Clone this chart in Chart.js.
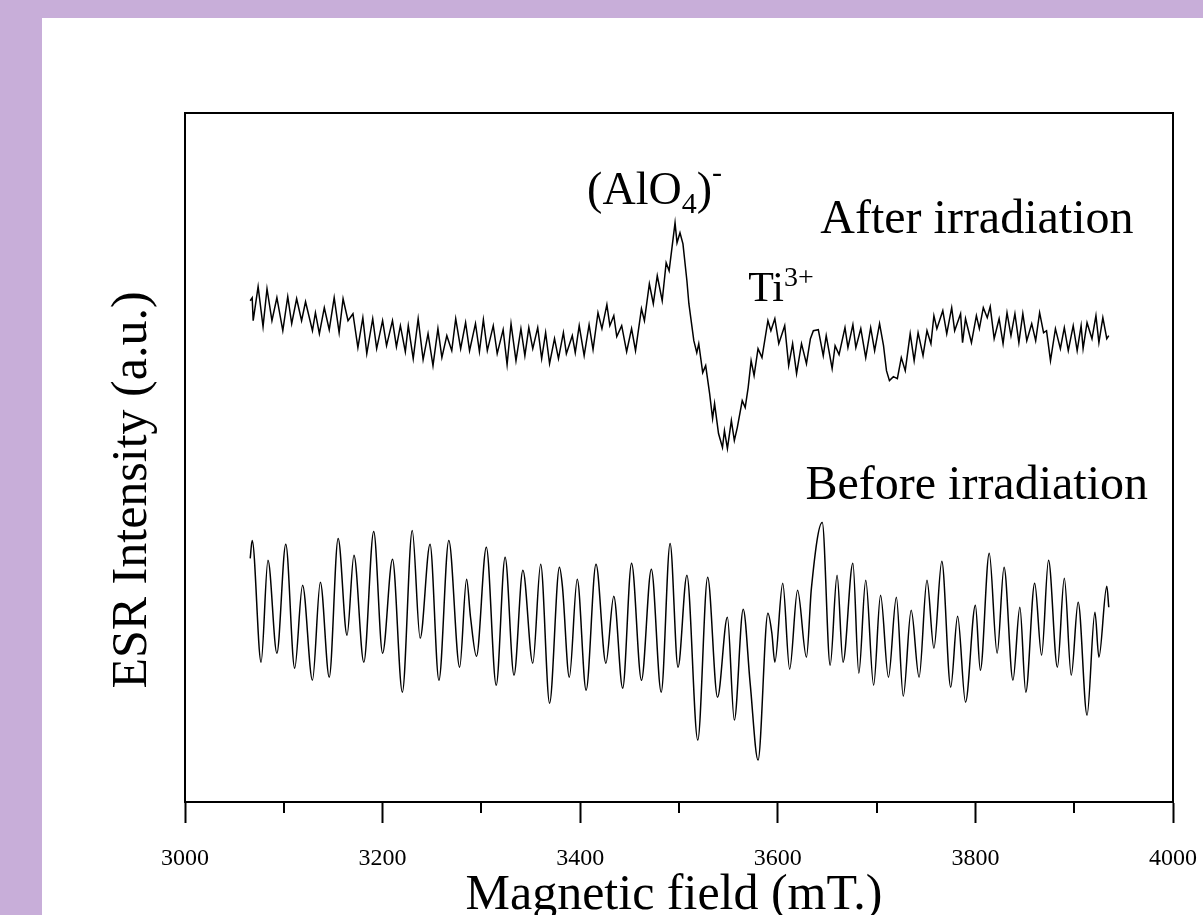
<!DOCTYPE html>
<html>
<head>
<meta charset="utf-8">
<script src="https://cdn.jsdelivr.net/npm/chart.js@4.4.1/dist/chart.umd.min.js"></script>
<style>
  html, body { margin: 0; padding: 0; }
  body { width: 1203px; height: 915px; background: #c8aed9; position: relative; overflow: hidden; }
  #sheet { position: absolute; left: 42px; top: 18px; right: 0; bottom: 0; background: #fff; }
  #esr { position: absolute; left: 0; top: 0; }
</style>
</head>
<body>
<div id="sheet"></div>
<canvas id="esr" width="1203" height="915"></canvas>
<script>
// ESR spectra, field in mT, intensity in arbitrary units
const afterField = [3066,3068,3069,3074,3079,3083,3088,3093,3099,3104,3108,3113,3118,3122,3129,3132,3136,3141,3146,3151,
  3156,3160,3165,3170,3175,3180,3184,3190,3194,3200,3204,3210,3214,3218,3223,3226,3231,3236,3241,3246,
  3251,3256,3260,3265,3270,3274,3279,3284,3288,3294,3298,3302,3306,3312,3316,3322,3326,3330,3335,3340,
  3344,3348,3352,3357,3361,3365,3369,3374,3378,3383,3386,3392,3395,3399,3404,3409,3413,3418,3422,3427,
  3430,3434,3437,3442,3447,3452,3456,3462,3465,3470,3474,3478,3483,3487,3490,3496,3498,3501,3504,3508,
  3510,3515,3518,3520,3524,3527,3531,3534,3536,3540,3544,3546,3549,3553,3556,3559,3564,3567,3570,3573,
  3576,3580,3584,3590,3593,3597,3601,3607,3611,3615,3619,3624,3629,3633,3636,3641,3646,3649,3655,3658,
  3662,3668,3671,3676,3679,3684,3689,3694,3698,3703,3707,3710,3713,3717,3721,3725,3729,3734,3738,3742,
  3747,3751,3755,3758,3761,3767,3771,3776,3779,3785,3787,3790,3796,3801,3804,3808,3812,3815,3819,3824,
  3828,3832,3836,3840,3844,3848,3852,3857,3861,3865,3869,3872,3876,3881,3886,3890,3894,3899,3903,3907,
  3909,3913,3918,3922,3925,3929,3933,3935];
const afterIntensity = [50.2,50.5,48.2,51.6,47.6,51.4,48.2,50.5,47.2,50.6,47.9,50.4,48.2,50.1,47.2,49.0,46.9,49.5,47.3,50.5,
  47.0,50.4,48.2,48.9,45.5,48.5,44.9,48.4,45.4,48.2,45.7,48.2,45.6,47.7,45.1,47.7,44.4,48.4,44.3,46.9,
  43.7,47.4,44.5,46.7,45.2,48.4,45.4,48.0,45.2,47.9,45.1,48.3,45.2,47.7,44.9,47.3,43.8,47.9,44.2,47.4,
  44.7,47.5,45.4,47.5,44.4,47.0,43.9,46.4,44.4,47.0,44.9,46.7,45.0,47.7,44.7,47.8,45.3,49.0,47.4,49.8,
  47.7,48.7,46.6,47.7,45.1,47.4,45.2,49.4,48.2,51.9,49.9,52.7,50.2,54.0,53.2,58.0,56.0,57.0,55.9,52.2,
  49.9,46.2,45.0,45.9,43.0,43.7,40.9,38.4,39.9,36.9,35.5,37.2,35.4,38.2,36.2,37.5,40.2,39.5,41.5,44.2,
  42.7,45.4,44.5,48.2,47.2,48.4,45.9,47.7,43.7,45.9,42.9,45.9,43.9,46.4,47.2,47.3,44.7,46.7,43.4,45.7,
  44.8,47.5,45.5,47.8,45.5,47.4,44.5,47.5,45.2,47.9,45.7,43.2,42.2,42.6,42.4,44.5,43.2,46.9,44.2,47.0,
  44.7,47.2,45.9,48.7,47.4,49.2,46.9,49.5,47.2,48.9,46.0,48.4,46.0,48.7,47.4,49.5,48.5,49.6,46.4,48.4,
  45.9,49.0,46.7,48.9,46.0,48.9,46.2,47.9,46.2,49.0,47.0,47.2,44.2,47.4,45.4,47.5,45.2,47.7,45.2,47.7,
  45.4,48.0,46.4,48.7,46.0,48.5,46.4,46.7];

const beforeField = [3066,3068,3077,3084,3093,3102,3111,3119,3129,3137,3146,3155,3164,3171,3181,3191,3200,3210,3220,3230,
  3238,3248,3257,3267,3278,3285,3289,3295,3305,3315,3324,3333,3342,3352,3360,3369,3379,3382,3389,3397,
  3406,3416,3426,3434,3443,3452,3462,3472,3482,3491,3499,3508,3519,3529,3539,3549,3556,3565,3572,3580,
  3590,3594,3597,3605,3612,3620,3629,3634,3645,3653,3660,3666,3676,3682,3689,3697,3704,3712,3720,3727,
  3735,3743,3751,3758,3766,3775,3782,3790,3800,3805,3814,3822,3829,3838,3845,3851,3860,3867,3874,3883,
  3890,3897,3904,3913,3921,3925,3933,3935];
const beforeIntensity = [24.4,26.2,14.0,24.2,14.9,25.8,13.4,21.7,12.2,22.0,12.5,26.4,16.7,24.7,14.0,27.1,14.9,24.3,11.0,27.2,
  16.4,25.8,12.2,26.2,13.5,22.3,18.5,14.6,25.5,11.7,24.5,12.7,23.2,13.9,23.8,9.9,23.5,21.6,12.5,22.3,
  11.2,23.8,13.9,20.6,11.4,23.9,12.2,23.3,11.0,25.9,13.5,22.7,6.2,22.5,10.5,18.5,8.2,19.3,11.9,4.2,
  18.9,16.9,14.0,21.9,13.3,21.2,14.5,21.4,28.0,13.7,22.7,14.0,23.9,12.9,22.2,11.7,20.7,12.5,20.5,10.6,
  19.2,12.5,22.2,15.4,24.1,11.5,18.6,10.0,19.7,13.2,24.9,14.9,23.5,12.2,19.5,11.0,21.9,14.7,24.2,13.5,
  22.4,12.7,20.0,8.7,19.0,14.5,21.6,19.5];

const majorTicks = [3000, 3200, 3400, 3600, 3800, 4000];
const minorTicks = [3100, 3300, 3500, 3700, 3900];

const toPoints = (xs, ys) => xs.map((v, i) => ({ x: v, y: ys[i] }));

const serif = '"Liberation Serif", "Times New Roman", serif';

// draws a run of text pieces with sub/superscripts, left to right
function drawRun(ctx, parts, x0, y0) {
  let cx = x0;
  parts.forEach(p => {
    ctx.font = p.size + 'px ' + serif;
    ctx.fillText(p.text, cx, y0 + (p.dy || 0));
    cx += ctx.measureText(p.text).width;
  });
}

const esrDecor = {
  id: 'esrDecor',
  afterDraw(chart) {
    const { ctx, chartArea: a, scales: { x, y } } = chart;
    ctx.save();
    ctx.strokeStyle = '#000';
    ctx.lineWidth = 2;
    // close the frame on top and right
    ctx.beginPath();
    ctx.moveTo(a.left, a.top);
    ctx.lineTo(a.right, a.top);
    ctx.lineTo(a.right, a.bottom);
    ctx.stroke();
    // short minor ticks
    minorTicks.forEach(v => {
      const px = Math.round(x.getPixelForValue(v));
      ctx.beginPath();
      ctx.moveTo(px, a.bottom);
      ctx.lineTo(px, a.bottom + 11);
      ctx.stroke();
    });

    ctx.fillStyle = '#000';
    ctx.textAlign = 'left';
    ctx.textBaseline = 'alphabetic';

    drawRun(ctx, [
      { text: '(AlO', size: 46 },
      { text: '4', size: 30, dy: 9 },
      { text: ')', size: 46 },
      { text: '-', size: 30, dy: -22 }
    ], x.getPixelForValue(3407), y.getPixelForValue(59.9));

    drawRun(ctx, [
      { text: 'Ti', size: 42 },
      { text: '3+', size: 28, dy: -15 }
    ], x.getPixelForValue(3570), y.getPixelForValue(50.2));

    drawRun(ctx, [{ text: 'After irradiation', size: 48 }],
      x.getPixelForValue(3643), y.getPixelForValue(57.0));
    drawRun(ctx, [{ text: 'Before irradiation', size: 48 }],
      x.getPixelForValue(3628), y.getPixelForValue(30.3));

    // axis titles
    ctx.font = '50px ' + serif;
    ctx.textAlign = 'center';
    ctx.fillText('Magnetic field (mT.)', 674, 909);
    ctx.translate(146, 490);
    ctx.rotate(-Math.PI / 2);
    ctx.fillText('ESR Intensity (a.u.)', 0, 0);
    ctx.restore();
  }
};

new Chart(document.getElementById('esr'), {
  type: 'scatter',
  data: {
    datasets: [
      {
        label: 'After irradiation',
        data: toPoints(afterField, afterIntensity),
        showLine: true,
        borderColor: '#000',
        borderWidth: 1.5,
        pointRadius: 0,
        tension: 0
      },
      {
        label: 'Before irradiation',
        data: toPoints(beforeField, beforeIntensity),
        showLine: true,
        borderColor: '#000',
        borderWidth: 1.5,
        pointRadius: 0,
        cubicInterpolationMode: 'monotone'
      }
    ]
  },
  options: {
    responsive: false,
    animation: false,
    devicePixelRatio: 1,
    layout: { padding: { top: 113, right: 30, left: 0, bottom: 0 } },
    plugins: { legend: { display: false }, tooltip: { enabled: false } },
    scales: {
      x: {
        type: 'linear',
        min: 3000,
        max: 4000,
        afterBuildTicks: s => { s.ticks = majorTicks.map(v => ({ value: v })); },
        afterFit: s => { s.height = 113; s.paddingLeft = 0; s.paddingRight = 0; },
        ticks: {
          color: '#000',
          font: { family: serif, size: 24 },
          padding: 21,
          maxRotation: 0,
          autoSkip: false,
          callback: v => String(v)
        },
        grid: {
          drawOnChartArea: false,
          drawTicks: true,
          tickLength: 21,
          tickWidth: 2,
          tickColor: '#000'
        },
        border: { color: '#000', width: 2 }
      },
      y: {
        min: 0,
        max: 69,
        afterFit: s => { s.width = 185; },
        ticks: { display: false },
        grid: { display: false },
        border: { color: '#000', width: 2 }
      }
    }
  },
  plugins: [esrDecor]
});
</script>
</body>
</html>
